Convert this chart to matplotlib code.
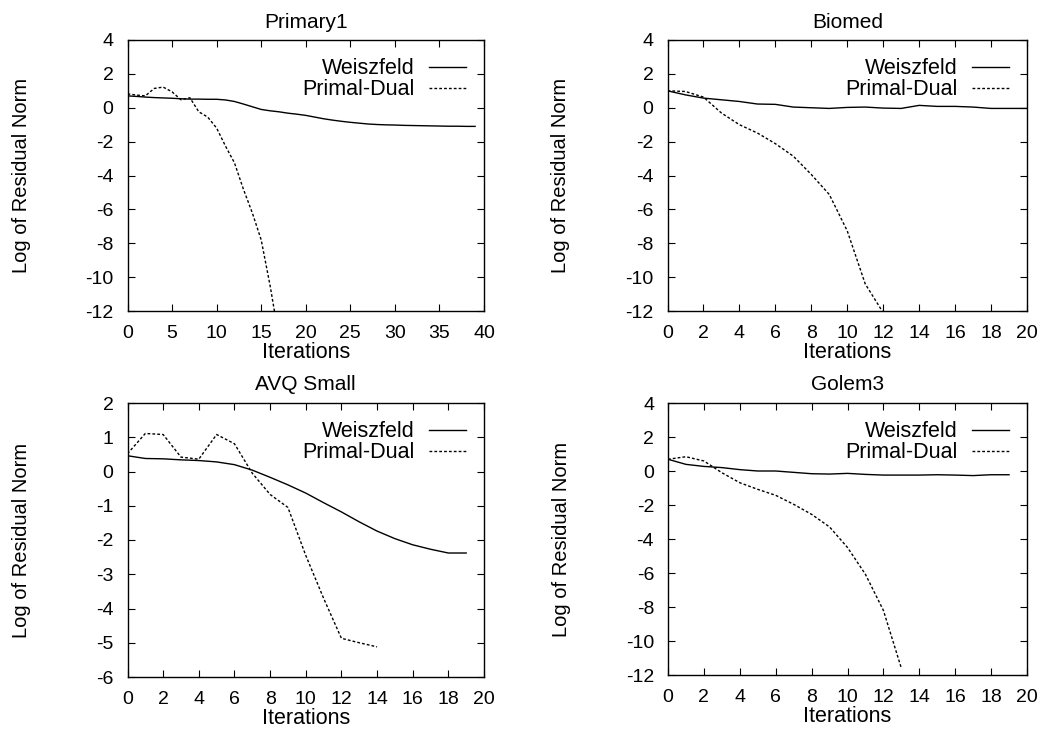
import matplotlib
matplotlib.use("Agg")
import matplotlib.pyplot as plt

plt.rcParams['font.family'] = ['Liberation Sans', 'DejaVu Sans']
plt.rcParams['axes.unicode_minus'] = False

# ---- data ----
titles = ["Primary1", "Biomed", "AVQ Small", "Golem3"]

p1_w_x = list(range(0, 40))
p1_w_y = [0.70, 0.67, 0.63, 0.60, 0.58, 0.56, 0.53, 0.51, 0.51, 0.50, 0.50, 0.46, 0.37, 0.22, 0.06,
          -0.10, -0.18, -0.24, -0.32, -0.38, -0.45, -0.55, -0.65, -0.73, -0.80, -0.86, -0.91, -0.96,
          -0.99, -1.01, -1.02, -1.04, -1.05, -1.06, -1.07, -1.08, -1.09, -1.09, -1.10, -1.10]
p1_pd_x = list(range(0, 18))
p1_pd_y = [0.82, 0.75, 0.70, 1.14, 1.22, 0.94, 0.47, 0.59, -0.24, -0.55, -1.20, -2.27, -3.25,
           -4.80, -6.20, -7.80, -10.5, -13.6]

p2_w_x = list(range(0, 21))
p2_w_y = [1.00, 0.76, 0.57, 0.47, 0.37, 0.22, 0.20, 0.04, 0.00, -0.04, 0.02, 0.04, -0.02, -0.04,
          0.14, 0.08, 0.08, 0.04, -0.04, -0.04, -0.04]
p2_pd_x = list(range(0, 13))
p2_pd_y = [1.00, 0.96, 0.63, -0.31, -1.00, -1.49, -2.12, -2.86, -3.94, -5.12, -7.27, -10.4, -12.1]

p3_w_x = list(range(0, 20))
p3_w_y = [0.46, 0.38, 0.37, 0.34, 0.32, 0.28, 0.20, 0.04, -0.17, -0.39, -0.63, -0.91, -1.18,
          -1.47, -1.74, -1.96, -2.14, -2.27, -2.38, -2.38]
p3_pd_x = list(range(0, 15))
p3_pd_y = [0.52, 1.11, 1.08, 0.42, 0.36, 1.08, 0.81, -0.05, -0.67, -1.05, -2.45, -3.70, -4.87,
           -5.00, -5.12]

p4_w_x = list(range(0, 20))
p4_w_y = [0.69, 0.39, 0.27, 0.20, 0.08, 0.00, 0.00, -0.08, -0.16, -0.18, -0.14, -0.20, -0.24,
          -0.24, -0.24, -0.22, -0.24, -0.27, -0.22, -0.22]
p4_pd_x = list(range(0, 14))
p4_pd_y = [0.69, 0.84, 0.59, -0.10, -0.69, -1.08, -1.43, -1.96, -2.55, -3.29, -4.50, -6.08,
           -8.20, -11.6]

xlims = [(0, 40), (0, 20), (0, 20), (0, 20)]
ylims = [(-12, 4), (-12, 4), (-6, 2), (-12, 4)]
xticks = [list(range(0, 41, 5)), list(range(0, 21, 2)), list(range(0, 21, 2)), list(range(0, 21, 2))]
yticks = [list(range(-12, 5, 2)), list(range(-12, 5, 2)), list(range(-6, 3, 1)), list(range(-12, 5, 2))]

series = [
    (p1_w_x, p1_w_y, p1_pd_x, p1_pd_y),
    (p2_w_x, p2_w_y, p2_pd_x, p2_pd_y),
    (p3_w_x, p3_w_y, p3_pd_x, p3_pd_y),
    (p4_w_x, p4_w_y, p4_pd_x, p4_pd_y),
]

W, H = 1040, 730
fig = plt.figure(figsize=(W / 100, H / 100), dpi=100)

# axes boxes in pixels: left, right, top, bottom
boxes = [(127.5, 484, 40, 311), (667.5, 1027, 40, 311), (127.5, 484, 403, 677), (668, 1027, 403, 675)]

for i, (l, r, t, b) in enumerate(boxes):
    ax = fig.add_axes([l / W, 1 - b / H, (r - l) / W, (b - t) / H])
    wx, wy, px, py = series[i]
    ax.plot(wx, wy, color='black', lw=1.0, label='Weiszfeld')
    ax.plot(px, py, color='black', lw=1.0, linestyle=(0, (2, 1.5)), label='Primal-Dual')
    ax.set_xlim(*xlims[i])
    ax.set_ylim(*ylims[i])
    ax.set_xticks(xticks[i])
    ax.set_yticks(yticks[i])
    ax.tick_params(direction='in', top=True, right=True, length=5, width=0.8,
                   labelsize=14, pad=10)
    for s in ax.spines.values():
        s.set_linewidth(1.0)
    ax.set_title(titles[i], fontsize=15, pad=9)
    ax.set_xlabel('Iterations', fontsize=15.5, labelpad=0)
    ax.set_ylabel('Log of Residual Norm', fontsize=14.5)
    ax.yaxis.set_label_coords(-0.27, 0.5)
    ax.legend(loc='upper right', frameon=False, markerfirst=False, fontsize=15.5,
              handlelength=1.72, handletextpad=0.65, labelspacing=0.0,
              borderaxespad=0.45)

fig.savefig('out.png', dpi=100)
